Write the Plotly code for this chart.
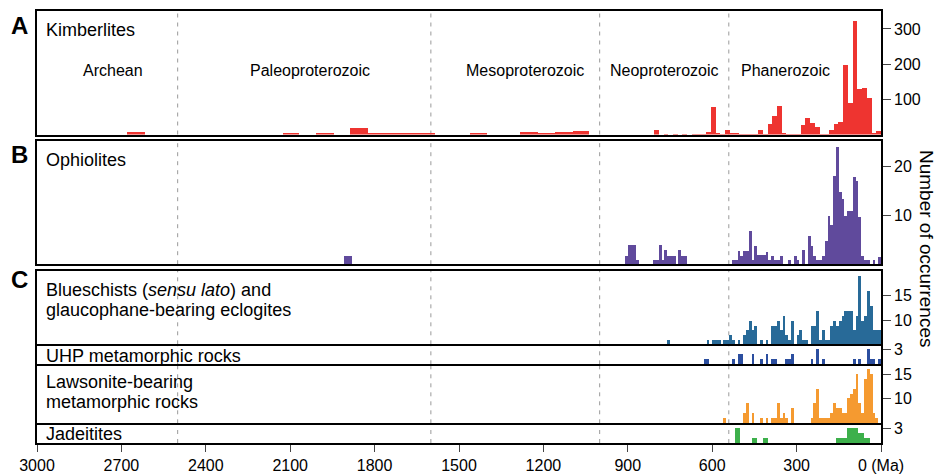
import plotly.graph_objects as go

# ---------------- data ----------------
# Kimberlites (A): recent part in 16.8 Ma bins counted back from 0 Ma
kimb_bin_ma = 16.8
kimb_recent = [10, 5, 103, 132, 128, 322, 89, 197, 35, 30,
               13, 1, 1, 21, 33, 47, 27, 1, 1, 1,
               4, 82, 53, 30, 1, 13, 1, 1, 1, 1,
               5, 5, 13, 1, 4, 79, 7, 1, 1, 1,
               0, 1, 0, 1, 0, 1, 0, 13]
# Kimberlites, Precambrian bars: age intervals (Ma) and counts
kimb_old_young = [1037, 1096, 1158, 1219, 1401, 1584, 1768, 1824, 1946, 2068, 2615]
kimb_old_old = [1096, 1158, 1219, 1282, 1460, 1768, 1824, 1887, 2007, 2127, 2679]
kimb_old_count = [10.5, 7.5, 2, 7.5, 4.5, 2, 4, 18.5, 1.5, 1.5, 7]

# Ophiolites (B): 10 Ma bins from 0 Ma
oph_bin_ma = 10
oph_counts = [1.6, 0, 0.9, 0, 0.9, 0.9, 1.8, 9.7, 17.1, 17.9,
              10.9, 10.9, 9.8, 13.3, 14.8, 24, 18, 8.1, 9.9, 4.8,
              1.8, 0.9, 0.9, 1.8, 3.8, 5.8, 0, 2.9, 0, 0.9,
              1.8, 0, 0.9, 0, 0, 1.8, 0.9, 0.9, 1.8, 0.9,
              2.6, 1.9, 1.9, 1.9, 3.8, 0.9, 6.9, 2.8, 2.8, 1.8,
              2.8, 0.9, 0.9, 0, 0, 0, 0, 0, 0, 0,
              0, 0, 0, 0, 0, 0, 0, 0, 0, 1.8,
              1.8, 3, 0, 1.8, 1.8, 1.8, 3, 0.9, 3.9, 0.9,
              0.9, 0, 0, 0, 0, 0, 0.9, 3.9, 3.9, 3.9,
              1.8]
oph_old_ages = [1880, 1890, 1900]
oph_old_counts = [1.8, 1.8, 1.8]

# (C) 10 Ma bins from 0 Ma; values as read on the right-hand axis
c_bin_ma = 10
blueschist = [8, 8, 8, 13, 16, 11, 10, 19, 11, 8,
              12, 12, 12, 11, 10, 9, 10, 9, 6, 6,
              8, 6, 12, 9, 9, 0, 6, 6, 8, 7,
              0, 10, 6, 7, 11, 8, 10, 9, 9, 0,
              6, 0, 6, 0, 9, 8, 10, 8, 7, 0,
              6, 0, 6, 7, 6, 6, 0, 6, 6, 6,
              0, 6, 0, 0, 0, 0, 0, 0, 0, 0,
              0, 0, 0, 0, 0, 6]
uhp = [1, 0, 1, 1, 3, 0, 0, 1, 0, 1,
       0, 0, 0, 0, 0, 0, 0, 0, 0, 0,
       1, 0, 3, 0, 1, 0, 0, 0, 0, 0,
       0, 2, 1, 1, 0, 0, 0, 1, 1, 0,
       2, 0, 1, 0, 0, 2, 0, 0, 0, 2,
       2, 0, 1, 0, 0, 0, 0, 0, 0, 0,
       0, 1, 1]
lawsonite = [0, 6, 7, 15, 16, 14, 7, 9, 15, 12,
             11, 10, 7, 7, 8, 8, 9, 7, 6, 6,
             6, 6, 12, 9, 6, 0, 0, 0, 0, 0,
             0, 8, 0, 6, 7, 6, 9, 6, 6, 0,
             6, 0, 6, 0, 0, 7, 0, 9, 7, 0,
             0, 0, 0, 0, 0, 6]
jadeitite = [0, 0, 0, 0, 1, 1, 2, 2, 3, 3,
             3, 3, 1, 1, 1, 1, 0, 0, 0, 0,
             0, 0, 0, 0, 0, 0, 0, 0, 0, 0,
             0, 0, 0, 0, 0, 0, 0, 0, 0, 0,
             1, 1, 0, 0, 1, 1, 0, 0, 0, 0,
             3, 3]

x_tick_vals = [3000, 2700, 2400, 2100, 1800, 1500, 1200, 900, 600, 300, 0]
x_tick_text = ["3000", "2700", "2400", "2100", "1800", "1500", "1200", "900", "600", "300", "0 (Ma)"]
era_bounds = [2500, 1600, 1000, 541]
era_names = ["Archean", "Paleoproterozoic", "Mesoproterozoic", "Neoproterozoic", "Phanerozoic"]
era_label_ma = [2730, 2030, 1265, 768, 340]

# ---------------- figure ----------------
W, H = 947, 475
ML, MR, MT, MB = 37, 66, 11, 32
PW, PH = W - ML - MR, H - MT - MB
FONT = "Liberation Sans, Arial, Helvetica, sans-serif"


def py(ypx):
    return (H - MB - ypx) / PH


def px(xpx):
    return (xpx - ML) / PW


def centers(n, width):
    return [(i + 0.5) * width for i in range(n)]


panels = [
    # (domain top px, bottom px, range, tickvals)
    (11, 134.5, [0, 351], [100, 200, 300]),
    (140.7, 264.2, [0, 25.2], [10, 20]),
    (270.7, 344.3, [5.13, 20.06], [10, 15]),
    (344.3, 364.3, [0, 4.05], [3]),
    (364.3, 423.3, [5.0, 17.0], [10, 15]),
    (423.3, 443, [0, 4.0], [3]),
]

RED = "#EE3430"
PURPLE = "#604A9C"
BLUE = "#286A98"
DBLUE = "#2B4E9F"
ORANGE = "#F59A30"
GREEN = "#3DB04B"

fig = go.Figure()


def add_bar(x, y, width, color, i):
    sfx = "" if i == 1 else str(i)
    fig.add_trace(go.Bar(x=x, y=y, width=width, marker=dict(color=color, line=dict(width=0)),
                         xaxis="x" + sfx, yaxis="y" + sfx, showlegend=False,
                         hoverinfo="x+y"))


add_bar(centers(len(kimb_recent), kimb_bin_ma), kimb_recent, kimb_bin_ma, RED, 1)
add_bar([(a + b) / 2 for a, b in zip(kimb_old_young, kimb_old_old)], kimb_old_count,
        [b - a for a, b in zip(kimb_old_young, kimb_old_old)], RED, 1)
add_bar(centers(len(oph_counts), oph_bin_ma), oph_counts, oph_bin_ma, PURPLE, 2)
add_bar([a + oph_bin_ma / 2 for a in oph_old_ages], oph_old_counts, oph_bin_ma, PURPLE, 2)
add_bar(centers(len(blueschist), c_bin_ma), blueschist, c_bin_ma, BLUE, 3)
add_bar(centers(len(uhp), c_bin_ma), uhp, c_bin_ma, DBLUE, 4)
add_bar(centers(len(lawsonite), c_bin_ma), lawsonite, c_bin_ma, ORANGE, 5)
add_bar(centers(len(jadeitite), c_bin_ma), jadeitite, c_bin_ma, GREEN, 6)

layout = dict(
    width=W, height=H,
    margin=dict(l=ML, r=MR, t=MT, b=MB, pad=0, autoexpand=False),
    paper_bgcolor="white", plot_bgcolor="rgba(0,0,0,0)",
    barmode="overlay", bargap=0,
    font=dict(family=FONT, size=16, color="black"),
    showlegend=False,
)

shapes = []
for i, (top, bot, yr, tv) in enumerate(panels, start=1):
    sfx = "" if i == 1 else str(i)
    last = i == len(panels)
    # panels 4..6 sit directly under another panel: draw only their bottom line
    mirror_x = i <= 3
    layout["xaxis" + sfx] = dict(
        domain=[0, 1], anchor="y" + sfx, range=[3000, 0],
        showline=True, mirror=mirror_x, linecolor="black", linewidth=1.6,
        showgrid=False, zeroline=False,
        showticklabels=last, ticks="outside" if last else "",
        tickvals=x_tick_vals, ticktext=x_tick_text, ticklen=7, tickwidth=1.3,
        tickfont=dict(size=16),
    )
    if i > 1:
        layout["xaxis" + sfx]["matches"] = "x"
    layout["yaxis" + sfx] = dict(
        domain=[py(bot), py(top)], anchor="x" + sfx, side="right", range=yr,
        tickvals=tv, ticks="outside", ticklen=8, tickwidth=1.3,
        showline=True, mirror=True, linecolor="black", linewidth=1.6,
        showgrid=False, zeroline=False, tickfont=dict(size=16),
    )
    for b in era_bounds:
        shapes.append(dict(type="line", xref="x" + sfx, yref="y" + sfx + " domain",
                           x0=b, x1=b, y0=0, y1=1, layer="below",
                           line=dict(color="#9a9a9a", width=1, dash="4px,5px")))
layout["shapes"] = shapes

ann = []


def text(x, y, s, size=18, xanchor="left", **kw):
    ann.append(dict(xref="paper", yref="paper", x=px(x), y=py(y), text=s, showarrow=False,
                    xanchor=xanchor, yanchor="middle", font=dict(size=size, family=FONT, color="black"),
                    **kw))


text(19.5, 25, "<b>A</b>", size=24, xanchor="center")
text(19.5, 154, "<b>B</b>", size=24, xanchor="center")
text(19.5, 279, "<b>C</b>", size=24, xanchor="center")

text(44, 30, "Kimberlites")
text(44, 159.5, "Ophiolites")
text(44, 290.3, "Blueschists (<i>sensu lato</i>) and")
text(44, 310.3, "glaucophane-bearing eclogites")
text(44, 355.5, "UHP metamorphic rocks")
text(44, 382, "Lawsonite-bearing")
text(44, 402, "metamorphic rocks")
text(44, 433.5, "Jadeitites")

for name, ma in zip(era_names, era_label_ma):
    ann.append(dict(xref="x", yref="paper", x=ma, y=py(70.5), text=name, showarrow=False,
                    xanchor="center", yanchor="middle",
                    font=dict(size=16, family=FONT, color="black")))

ann.append(dict(xref="paper", yref="paper", x=px(927), y=py(248), text="Number of occurrences",
                showarrow=False, textangle=90, xanchor="center", yanchor="middle",
                font=dict(size=19, family=FONT, color="black")))
layout["annotations"] = ann

fig.update_layout(**layout)
fig.write_html("out.html", config={"displayModeBar": False},
               post_script="document.body.style.margin='0px';")
